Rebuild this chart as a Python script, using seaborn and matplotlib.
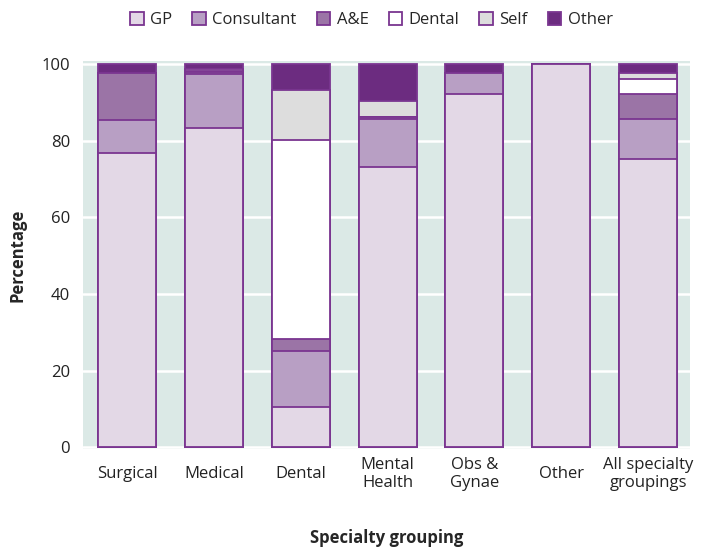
import matplotlib
matplotlib.use("Agg")
import matplotlib.pyplot as plt
import seaborn as sns
import pandas as pd
import numpy as np
from matplotlib.patches import Patch

categories = ["Surgical", "Medical", "Dental", "Mental\nHealth", "Obs &\nGynae", "Other", "All specialty\ngroupings"]
series_names = ["GP", "Consultant", "A&E", "Dental", "Self", "Other"]
gp         = [76.7, 83.4, 10.4, 73.1, 92.1, 100.0, 75.2]
consultant = [8.7, 14.0, 14.7, 12.5, 5.5, 0.0, 10.4]
ae         = [12.4, 0.6, 3.1, 0.5, 0.0, 0.0, 6.7]
dental     = [0.0, 0.2, 52.0, 0.0, 0.0, 0.0, 3.9]
self_ref   = [0.0, 0.5, 13.0, 4.3, 0.0, 0.0, 1.4]
other      = [2.2, 1.3, 6.8, 9.6, 2.4, 0.0, 2.4]

colors = ["#e3d8e6", "#b89fc4", "#9b74a6", "#ffffff", "#dddddd", "#6c2c80"]
edge = "#7a3590"

sns.set_theme(style="white")
plt.rcParams['font.family'] = ['Open Sans', 'DejaVu Sans']

series = [gp, consultant, ae, dental, self_ref, other]
cum = np.cumsum(np.array(series), axis=0)

fig = plt.figure(figsize=(7.01, 5.51), dpi=100)
ax = fig.add_axes([0.118, 0.185, 0.866, 0.704])
ax.set_facecolor("#dbe9e6")

for i in range(len(series) - 1, -1, -1):
    df = pd.DataFrame({"cat": categories, "val": cum[i]})
    sns.barplot(data=df, x="cat", y="val", order=categories, color=colors[i],
                saturation=1, width=0.667, edgecolor=edge, linewidth=1.3, ax=ax)

ax.set_ylim(-0.5, 100.8)
ax.set_xlim(-0.51, 6.48)
ax.set_yticks([0, 20, 40, 60, 80, 100])
ax.yaxis.grid(True, color="white", linewidth=1.8)
ax.set_axisbelow(True)
for s in ax.spines.values():
    s.set_visible(False)
ax.tick_params(axis="x", length=0, pad=18, labelsize=12, colors="#222222")
ax.tick_params(axis="y", length=0, pad=9, labelsize=12, colors="#222222")
for lab in ax.get_xticklabels():
    lab.set_verticalalignment("center")
    lab.set_linespacing(1.15)
ax.set_ylabel("Percentage", fontsize=12, fontweight="bold")
ax.yaxis.set_label_coords(-0.092, 0.5)
ax.set_xlabel("Specialty grouping", fontsize=12, fontweight="bold")
ax.xaxis.set_label_coords(0.5, -0.205)

handles = [Patch(facecolor=c, edgecolor=edge, linewidth=1.3, label=n) for c, n in zip(colors, series_names)]
fig.legend(handles=handles, loc="upper center", bbox_to_anchor=(0.53, 1.005), ncol=6,
           frameon=False, fontsize=12, handlelength=0.8, handleheight=0.8,
           handletextpad=0.4, columnspacing=1.2)

fig.savefig("out.png", dpi=100)
